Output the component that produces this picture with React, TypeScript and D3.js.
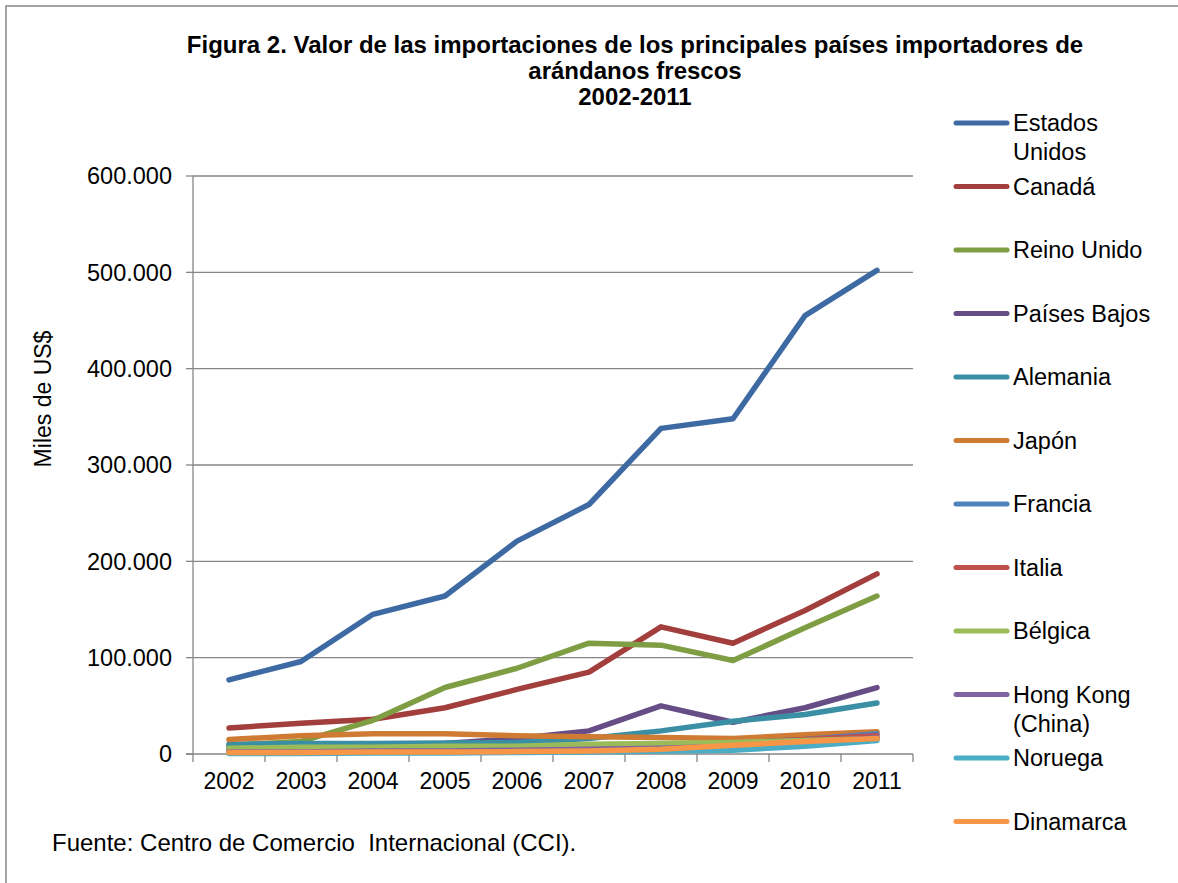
import React from "react";
import * as d3 from "d3";

const years = ["2002", "2003", "2004", "2005", "2006", "2007", "2008", "2009", "2010", "2011"];
const seriesNames = [
  "Estados Unidos", "Canadá", "Reino Unido", "Países Bajos", "Alemania", "Japón",
  "Francia", "Italia", "Bélgica", "Hong Kong (China)", "Noruega", "Dinamarca",
];
const estadosUnidos = [77000, 96000, 145000, 164000, 221000, 259000, 338000, 348000, 455000, 502000];
const canada = [27000, 32000, 36000, 48000, 67000, 85000, 132000, 115000, 149000, 187000];
const reinoUnido = [9000, 13000, 35000, 69000, 89000, 115000, 113000, 97000, 131000, 164000];
const paisesBajos = [7000, 8000, 9000, 11000, 16000, 24000, 50000, 33000, 48000, 69000];
const alemania = [10000, 11000, 11000, 11500, 12000, 16000, 24000, 34000, 41000, 53000];
const japon = [15000, 19000, 21000, 21000, 19000, 18000, 17000, 16000, 20000, 23000];
const francia = [5000, 5000, 6000, 6000, 7000, 8000, 9000, 11000, 15000, 21000];
const italia = [3000, 3000, 4000, 4000, 5000, 6000, 8000, 11000, 15000, 19000];
const belgica = [6000, 7000, 7000, 8000, 8000, 10000, 11000, 12000, 14000, 16000];
const hongKong = [2000, 2000, 3000, 3000, 4000, 5000, 6000, 8000, 12000, 17000];
const noruega = [500, 500, 1000, 1000, 1500, 2000, 3000, 4000, 8000, 14000];
const dinamarca = [1500, 1500, 2000, 2000, 2500, 3000, 5000, 9000, 13000, 16000];
const yTicks = [0, 100000, 200000, 300000, 400000, 500000, 600000];
const colors = [
  "#3E6AA3", "#A23F3C", "#7F9D43", "#664D86", "#3A8FA5", "#D07B33",
  "#4F81BD", "#C0504D", "#9BBB59", "#8064A2", "#4BACC6", "#F79646",
];

const allSeries = [estadosUnidos, canada, reinoUnido, paisesBajos, alemania, japon,
  francia, italia, belgica, hongKong, noruega, dinamarca];

const locale = d3.formatLocale({ decimal: ",", thousands: ".", grouping: [3], currency: ["", "$"] });
const fmt = locale.format(",d");

const FONT = "'Liberation Sans', Arial, sans-serif";
const GRID = "#868686";

export default function App() {
  const W = 1178, H = 883;
  const x = d3.scaleBand<string>().domain(years).range([193, 913]).padding(0);
  const y = d3.scaleLinear().domain([0, 600000]).range([754, 176]);
  const line = d3.line<number>()
    .x((_, i) => (x(years[i]) as number) + x.bandwidth() / 2)
    .y((d) => y(d));

  const legendY0 = 123;
  const legendStep = 63.5;

  return (
    <svg width={W} height={H} style={{ position: "absolute", left: 0, top: 0, display: "block", background: "#fff" }}
      fontFamily={FONT}>
      <rect x={0} y={0} width={W} height={H} fill="#fff" />
      <rect x={6} y={6} width={W + 20} height={H + 20} fill="none" stroke={GRID} strokeWidth={1.5} />
      <text x={635} y={53} textAnchor="middle" fontWeight="bold" fontSize={24}>
        <tspan x={635} dy={0}>Figura 2. Valor de las importaciones de los principales países importadores de</tspan>
        <tspan x={635} dy={26}>arándanos frescos</tspan>
        <tspan x={635} dy={26}>2002-2011</tspan>
      </text>
      {yTicks.map((t) => (
        <g key={t}>
          {t > 0 && <line x1={193} x2={913} y1={y(t)} y2={y(t)} stroke={GRID} strokeWidth={1.3} />}
          <line x1={186} x2={193} y1={y(t)} y2={y(t)} stroke={GRID} strokeWidth={1.3} />
          <text x={172} y={y(t)} dy="0.35em" textAnchor="end" fontSize={23.5}>{fmt(t)}</text>
        </g>
      ))}
      <line x1={193} x2={193} y1={176} y2={754} stroke={GRID} strokeWidth={1.3} />
      <line x1={186} x2={913} y1={754} y2={754} stroke={GRID} strokeWidth={1.3} />
      {years.map((yr, i) => (
        <g key={yr}>
          <line x1={(x(yr) as number) + x.bandwidth()} x2={(x(yr) as number) + x.bandwidth()} y1={754} y2={762}
            stroke={GRID} strokeWidth={1.3} />
          {i === 0 && <line x1={193} x2={193} y1={754} y2={762} stroke={GRID} strokeWidth={1.3} />}
          <text x={(x(yr) as number) + x.bandwidth() / 2} y={781} dy="0.35em" textAnchor="middle" fontSize={23}>{yr}</text>
        </g>
      ))}
      <text transform="translate(43,399) rotate(-90)" textAnchor="middle" dy="0.35em" fontSize={23}>Miles de US$</text>
      {allSeries.map((s, i) => (
        <path key={seriesNames[i]} d={line(s) || ""} fill="none" stroke={colors[i]} strokeWidth={5.5}
          strokeLinecap="round" strokeLinejoin="round" />
      ))}
      {seriesNames.map((n, i) => {
        const ly = legendY0 + i * legendStep;
        const parts = n === "Estados Unidos" ? ["Estados", "Unidos"] : n === "Hong Kong (China)" ? ["Hong Kong", "(China)"] : [n];
        return (
          <g key={n}>
            <line x1={956} x2={1007} y1={ly} y2={ly} stroke={colors[i]} strokeWidth={5} strokeLinecap="round" />
            <text x={1013} y={ly} dy="0.35em" fontSize={23.5}>
              {parts.map((p, j) => (
                <tspan key={j} x={1013} dy={j === 0 ? "0.35em" : 29}>{p}</tspan>
              ))}
            </text>
          </g>
        );
      })}
      <text x={52} y={843} dy="0.35em" fontSize={24} style={{ whiteSpace: "pre" }}>Fuente: Centro de Comercio  Internacional (CCI).</text>
    </svg>
  );
}
